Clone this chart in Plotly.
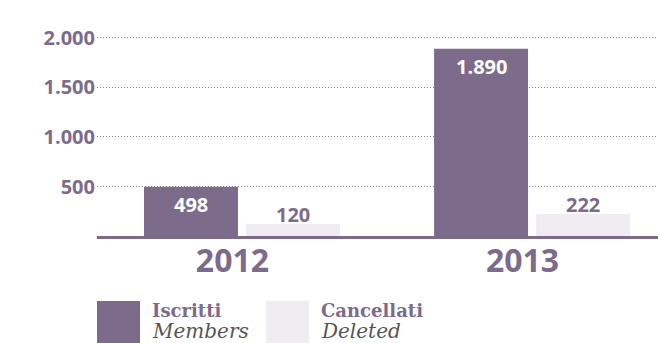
import plotly.graph_objects as go

years = ["2012", "2013"]
iscritti = [498, 1890]
cancellati = [120, 222]
y_ticks = [500, 1000, 1500, 2000]

PURPLE = "#7d6b8c"
LIGHT = "#efecf2"
FONT = "Open Sans"

xs = list(range(len(years)))

fig = go.Figure()
fig.add_trace(go.Bar(
    x=xs, y=iscritti, offset=-0.338, width=0.324,
    marker=dict(color=PURPLE, line=dict(width=0)),
    hoverinfo="skip", showlegend=False,
))
fig.add_trace(go.Bar(
    x=xs, y=cancellati, offset=0.014, width=0.324,
    marker=dict(color=LIGHT, line=dict(width=0)),
    hoverinfo="skip", showlegend=False,
))

def fmt(v):
    return f"{v:,}".replace(",", ".")

for x, v in zip(xs, iscritti):
    fig.add_annotation(x=x - 0.176, y=v, text=fmt(v), showarrow=False,
                       yanchor="top", yshift=-2,
                       font=dict(family=FONT, size=20, color="white", weight=700))
for x, v in zip(xs, cancellati):
    fig.add_annotation(x=x + 0.176, y=v, text=fmt(v), showarrow=False,
                       yanchor="bottom", yshift=-6,
                       font=dict(family=FONT, size=20, color=PURPLE, weight=700))

fig.update_layout(
    width=658, height=343,
    margin=dict(l=97, r=0, t=36, b=107),
    paper_bgcolor="white", plot_bgcolor="white",
    separators=",.",
    barmode="overlay",
    xaxis=dict(
        range=[-0.5, 1.434], tickmode="array",
        tickvals=[x - 0.033 for x in xs], ticktext=years,
        showline=True, linecolor=PURPLE, linewidth=3, showgrid=False,
        zeroline=False, ticks="",
        tickfont=dict(family=FONT, size=32, color=PURPLE, weight=700),
        ticklabelstandoff=-5,
    ),
    yaxis=dict(
        range=[0, 2020], tickmode="array", tickvals=y_ticks, tickformat=",d",
        showgrid=True, gridcolor="#8a8a8a", gridwidth=1, griddash="1px,2px",
        zeroline=False, showline=False, ticks="",
        tickfont=dict(family=FONT, size=20, color=PURPLE, weight=700),
        ticklabelstandoff=1,
    ),
)

# legend drawn with shapes + annotations
legend_items = [("Iscritti", "Members", PURPLE), ("Cancellati", "Deleted", LIGHT)]
lx = [97, 266]
ph = 200
for (it, en, col), x0 in zip(legend_items, lx):
    fig.add_shape(type="rect", xref="paper", yref="paper",
                  x0=(x0 - 97) / 561, x1=(x0 + 43 - 97) / 561,
                  y0=(236 - 343) / ph, y1=(236 - 301) / ph,
                  fillcolor=col, line=dict(width=0))
    fig.add_annotation(xref="paper", yref="paper", x=(x0 + 53 - 97) / 561,
                       y=(236 - 310) / ph, text="<b>" + it + "</b>", showarrow=False,
                       xanchor="left", yanchor="middle",
                       font=dict(family="DejaVu Serif", size=18, color=PURPLE))
    fig.add_annotation(xref="paper", yref="paper", x=(x0 + 53 - 97) / 561,
                       y=(236 - 331) / ph, text="<i>" + en + "</i>", showarrow=False,
                       xanchor="left", yanchor="middle",
                       font=dict(family="DejaVu Serif", size=20, color="#555555"))

fig.write_html("out.html")
